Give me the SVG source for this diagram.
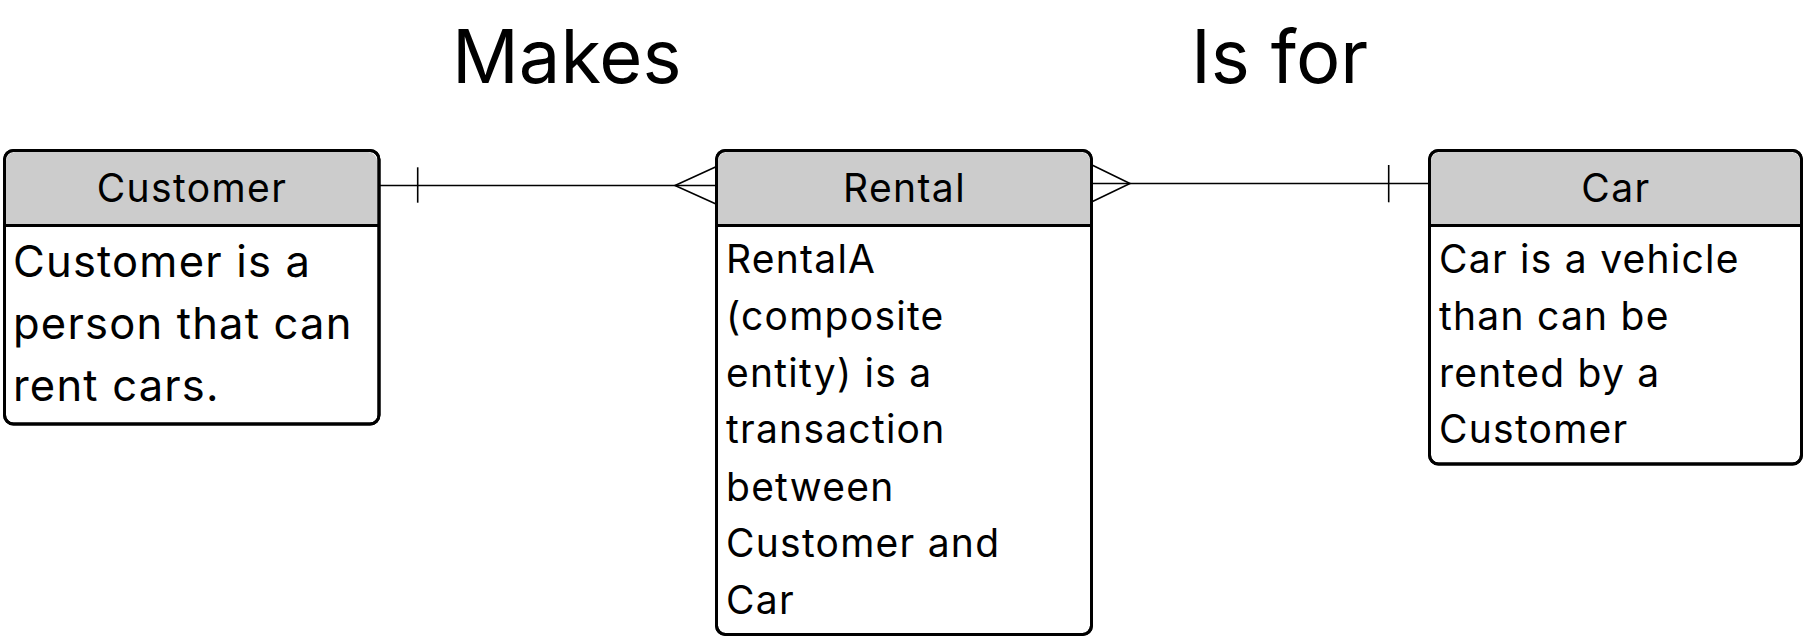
<svg xmlns="http://www.w3.org/2000/svg" width="1804" height="638" viewBox="0 0 1804 638">
<style>
.box{fill:#ffffff;stroke:#000;stroke-width:3}
.hdr{fill:#cccccc;stroke:none}
.div{stroke:#000;stroke-width:3}
.t{font-family:Inter,"Noto Sans",sans-serif;fill:#000}
.title{font-size:39px;text-anchor:middle;letter-spacing:1.4px}
.body{font-size:39px;letter-spacing:1.25px}
.big{font-size:43.5px;letter-spacing:1.2px}
.rel{font-size:74px}
.conn{stroke:#000;stroke-width:1.6;fill:none}
</style>
<rect width="1804" height="638" fill="#ffffff"/>
<g id="Customer">
<rect class="box" x="4.5" y="150.5" width="374.5" height="273.5" rx="9"/>
<path class="hdr" d="M6 225 V161 a9 9 0 0 1 9 -9 H368 a9 9 0 0 1 9 9 V225 Z"/>
<rect x="4.5" y="150.5" width="374.5" height="273.5" rx="9" fill="none" stroke="#000" stroke-width="3"/>
<line class="div" x1="4.5" y1="225.5" x2="379" y2="225.5"/>
<text class="t title" x="192" y="201.5">Customer</text>
<text class="t big" x="13" y="276.5">Customer is a</text>
<text class="t big" x="13" y="339">person that can</text>
<text class="t big" x="13" y="401">rent cars.</text>
</g>
<g id="Rental">
<rect class="box" x="716.5" y="150.5" width="375" height="484" rx="9"/>
<path class="hdr" d="M718 225 V161 a9 9 0 0 1 9 -9 H1081 a9 9 0 0 1 9 9 V225 Z"/>
<rect x="716.5" y="150.5" width="375" height="484" rx="9" fill="none" stroke="#000" stroke-width="3"/>
<line class="div" x1="716.5" y1="225.5" x2="1091.5" y2="225.5"/>
<text class="t title" x="904.5" y="201.5">Rental</text>
<text class="t body" x="726" y="273.3">RentalA</text>
<text class="t body" x="726" y="330">(composite</text>
<text class="t body" x="726" y="386.7">entity) is a</text>
<text class="t body" x="726" y="443.3">transaction</text>
<text class="t body" x="726" y="500.5">between</text>
<text class="t body" x="726" y="557.3">Customer and</text>
<text class="t body" x="726" y="614">Car</text>
</g>
<g id="Car">
<rect class="box" x="1429.5" y="150.5" width="372" height="313.5" rx="9"/>
<path class="hdr" d="M1431 225 V161 a9 9 0 0 1 9 -9 H1791 a9 9 0 0 1 9 9 V225 Z"/>
<rect x="1429.5" y="150.5" width="372" height="313.5" rx="9" fill="none" stroke="#000" stroke-width="3"/>
<line class="div" x1="1429.5" y1="225.5" x2="1801.5" y2="225.5"/>
<text class="t title" x="1616" y="201.5">Car</text>
<text class="t body" x="1439" y="273.3">Car is a vehicle</text>
<text class="t body" x="1439" y="330">than can be</text>
<text class="t body" x="1439" y="386.7">rented by a</text>
<text class="t body" x="1439" y="443.3">Customer</text>
</g>
<g id="connectors">
<path class="conn" d="M380 185.5 H716"/>
<path class="conn" d="M417.7 167.3 V202.7"/>
<path class="conn" d="M716 166.7 L675 185.5 L716 204"/>
<path class="conn" d="M1092 183.5 H1429"/>
<path class="conn" d="M1092 165 L1130 183.5 L1092 201.7"/>
<path class="conn" d="M1388.7 165 V202.3"/>
</g>
<g id="labels">
<text class="t rel" x="452" y="83.3">Makes</text>
<text class="t rel" x="1191" y="83.3">Is for</text>
</g>
</svg>
